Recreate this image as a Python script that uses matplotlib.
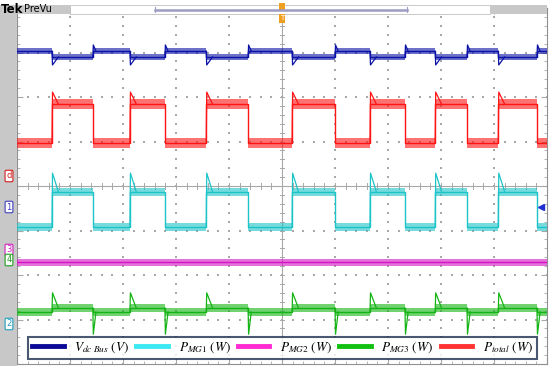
import matplotlib.pyplot as plt
import numpy as np
from matplotlib.lines import Line2D
from matplotlib.patches import Rectangle

# pulse edges, in divisions from the left side of the screen (10 div wide)
rise_div = [0.66, 2.13, 3.57, 5.19, 6.66, 7.89, 9.08]
fall_div = [1.43, 2.79, 4.36, 6.00, 7.32, 8.49, 9.81]

# levels in divisions from screen centre (8 div tall): (off, on)
names = ["vdc", "pmg1", "pmg2", "pmg3", "ptotal"]
labels = [r"$V_{dc\ Bus}\ (V)$", r"$P_{MG1}\ (W)$", r"$P_{MG2}\ (W)$",
          r"$P_{MG3}\ (W)$", r"$P_{total}\ (W)$"]
level_off = [3.03, -0.92, -1.71, -2.83, 0.97]
level_on = [2.90, -0.13, -1.71, -2.74, 1.84]
spike_rise = [2.72, 0.29, None, -2.40, 2.11]
spike_fall = [3.17, None, None, -3.33, None]
noise = [0.06, 0.09, 0.08, 0.09, 0.11]

trace_colors = ["#0c12a8", "#1cc4c8", "#d414c4", "#14b414", "#ff1414"]
legend_colors = ["#0a0a96", "#3ce8f4", "#ff2ad2", "#12c012", "#ff3232"]

W, H = 550, 366
PX_L, PX_R, PX_T, PX_B = 17, 547, 8, 364


def square(off, on):
    t = [0.0]
    y = [off]
    for r, f in zip(rise_div, fall_div):
        t += [r, r, f, f]
        y += [off, on, on, off]
    t.append(10.0)
    y.append(off)
    return np.array(t), np.array(y)


fig = plt.figure(figsize=(W / 100, H / 100), dpi=100)
fig.patch.set_facecolor("white")

ax = fig.add_axes([PX_L / W, 1 - PX_B / H, (PX_R - PX_L) / W, (PX_B - PX_T) / H])
ax.set_xlim(0, 10)
ax.set_ylim(-4, 4)
ax.set_facecolor("white")

# graticule: dotted lines, dots every 1/5 div, solid centre cross
gcol = "#a8a8a8"
minor_x = np.arange(0, 10.01, 0.2)
minor_y = np.arange(-4, 4.01, 0.2)
for gx in range(1, 10):
    if gx != 5:
        ax.scatter(np.full(minor_y.size, gx), minor_y, s=0.6, c=gcol, marker="s", lw=0)
for gy in range(-3, 4):
    if gy != 0:
        ax.scatter(minor_x, np.full(minor_x.size, gy), s=0.6, c=gcol, marker="s", lw=0)
ax.axhline(0, color=gcol, lw=0.8)
ax.axvline(5, color=gcol, lw=0.8)
for mx in minor_x:
    ax.plot([mx, mx], [-0.06, 0.06], color=gcol, lw=0.7)
for my in minor_y:
    ax.plot([4.97, 5.03], [my, my], color=gcol, lw=0.7)

ax.set_xticks(range(0, 11))
ax.set_yticks(range(-4, 5))
ax.set_xticks(minor_x, minor=True)
ax.set_yticks(minor_y, minor=True)
ax.tick_params(which="both", direction="in", colors=gcol, labelleft=False,
               labelbottom=False, top=True, right=True)
ax.tick_params(which="major", length=4)
ax.tick_params(which="minor", length=2)
for s in ax.spines.values():
    s.set_color("#909090")
    s.set_linewidth(0.8)

# traces
for i in range(len(names)):
    t, y = square(level_off[i], level_on[i])
    ax.fill_between(t, y - noise[i], y + noise[i], color=trace_colors[i],
                    alpha=0.6, lw=0, zorder=3)
    ax.plot(t, y, color=trace_colors[i], lw=1.0, zorder=4)
    if spike_rise[i] is not None:
        for r in rise_div:
            ax.plot([r, r + 0.01, r + 0.12], [level_off[i], spike_rise[i], level_on[i]],
                    color=trace_colors[i], lw=0.9, zorder=4)
    if spike_fall[i] is not None:
        for f in fall_div:
            ax.plot([f, f + 0.01, f + 0.06], [level_on[i], spike_fall[i], level_off[i]],
                    color=trace_colors[i], lw=0.9, zorder=4)

# overlay in pixel units for the scope decorations
ov = fig.add_axes([0, 0, 1, 1], zorder=5)
ov.set_xlim(0, W)
ov.set_ylim(H, 0)
ov.axis("off")
ov.patch.set_alpha(0)

ov.add_patch(Rectangle((0, 0), PX_L, H, color="#c8c8c8", lw=0))
ov.add_patch(Rectangle((0, 0), W, 5, color="white", lw=0))
ov.add_patch(Rectangle((PX_L, 5), 53, 9, color="#c8c8c8", lw=0))
ov.add_patch(Rectangle((70, 5), 420, 9, facecolor="white", edgecolor="#c0c0c0", lw=0.6))
ov.add_patch(Rectangle((490, 5), PX_R - 490, 9, color="#c8c8c8", lw=0))
ov.plot([155, 407], [9.5, 9.5], color="#9c9cc4", lw=1.8)
ov.plot([155, 155], [7, 12], color="#9c9cc4", lw=0.8)
ov.plot([407, 407], [7, 12], color="#9c9cc4", lw=0.8)
ov.text(1, 9.5, "Tek", fontsize=8.5, fontweight="bold", va="center", ha="left")
ov.text(24, 9.5, "PreVu", fontsize=7, va="center", ha="left")

# trigger position marker
ov.add_patch(Rectangle((279, 3), 6, 8, color="#f0a020", lw=0))
ov.add_patch(Rectangle((279, 14), 6, 9, color="#f0a020", lw=0))
ov.text(282, 18.5, "T", fontsize=5, color="white", ha="center", va="center")

# channel markers on the left
chan = [("d", 176, "#d02020"), ("1", 207, "#4040c0"), ("3", 250, "#d020c0"),
        ("4", 260, "#20a020"), ("2", 324, "#20a0c0")]
for txt, py, c in chan:
    ov.text(9, py, txt, fontsize=6, color=c, ha="center", va="center",
            bbox=dict(boxstyle="round,pad=0.15", fc="white", ec=c, lw=0.8))
ov.plot([541], [207], marker="<", color="#2030d0", ms=4)

# legend
handles = [Line2D([], [], color=c, lw=3.5) for c in legend_colors]
plt.rcParams["mathtext.fontset"] = "stix"
leg = fig.legend(handles, labels, ncol=5, loc="center", mode="expand",
                 bbox_to_anchor=(28 / W, 1 - 358 / H, 509 / W, 20 / H),
                 fontsize=9.5, frameon=True, fancybox=False, handlelength=2.4,
                 handletextpad=0.8, columnspacing=1.0, borderpad=0.3,
                 borderaxespad=0)
leg.get_frame().set_edgecolor("#1e2e4e")
leg.get_frame().set_linewidth(1.5)
leg.set_zorder(10)

fig.savefig("out.png", dpi=100)
